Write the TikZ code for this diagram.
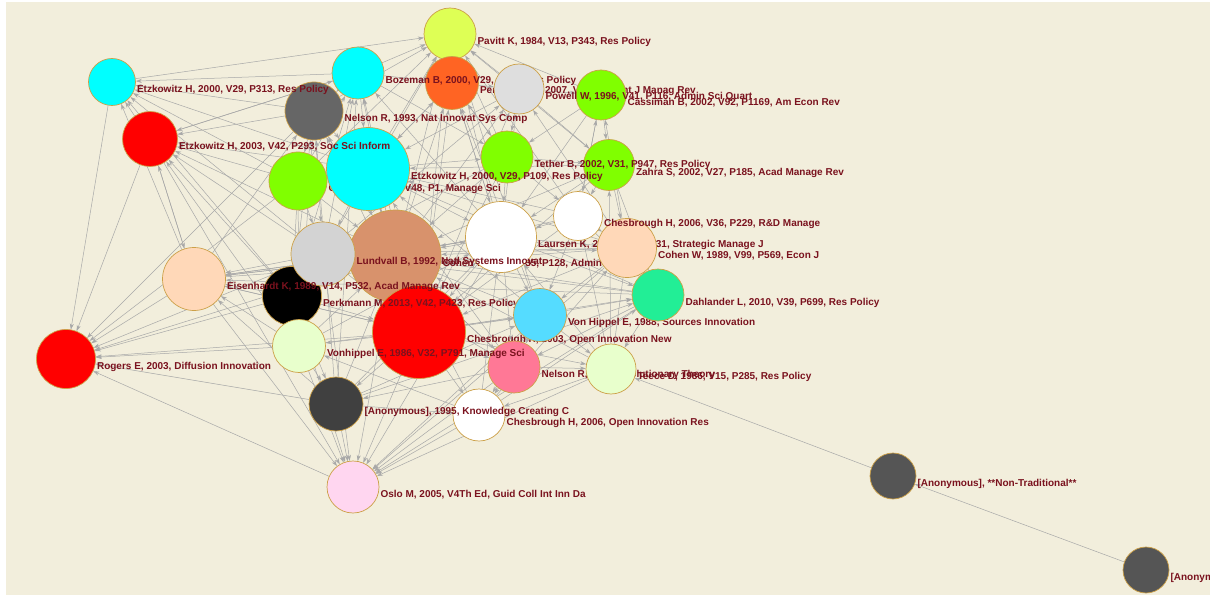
\documentclass[tikz,border=0pt]{standalone}
\usepackage{fontspec}
\setmainfont{Liberation Sans}
\usetikzlibrary{arrows.meta, backgrounds}

\definecolor{bgbeige}{RGB}{242,238,220}
\definecolor{linkgray}{RGB}{168,168,168}
\definecolor{rimgold}{RGB}{204,160,72}
\definecolor{lblred}{RGB}{122,18,30}
\definecolor{yelgreen}{RGB}{222,255,85}
\definecolor{cyanfill}{RGB}{0,255,255}
\definecolor{orangefill}{RGB}{255,100,35}
\definecolor{palegray}{RGB}{222,222,222}
\definecolor{limefill}{RGB}{128,255,0}
\definecolor{midgray}{RGB}{102,102,102}
\definecolor{redfill}{RGB}{255,0,0}
\definecolor{peachfill}{RGB}{255,216,184}
\definecolor{silvergray}{RGB}{211,211,211}
\definecolor{clayfill}{RGB}{216,146,108}
\definecolor{skyfill}{RGB}{85,220,255}
\definecolor{mintfill}{RGB}{34,238,150}
\definecolor{palelime}{RGB}{232,255,204}
\definecolor{rosefill}{RGB}{255,120,150}
\definecolor{darkfill}{RGB}{64,64,64}
\definecolor{pinkpale}{RGB}{255,214,240}
\definecolor{slatefill}{RGB}{85,85,85}

\begin{document}
\begin{tikzpicture}[x=1pt, y=-1pt,
    paper/.style={circle, draw=rimgold, line width=0.7pt, inner sep=0pt},
    lbl/.style={anchor=base west, inner sep=0pt, text=lblred,
        font=\bfseries\fontsize{10}{12}\selectfont},
    link/.style={draw=linkgray, line width=0.5pt, -{Stealth[length=6pt, width=4pt]}}]

    \useasboundingbox (0,0) rectangle (1210,596);

    % --- Top row ---
    \node[paper, fill=yelgreen, minimum size=52] (pavitt) at (450,34) {};
    \node[lbl] (pavitt-t) at ([shift={(1,10.5)}]pavitt.east) {Pavitt K, 1984, V13, P343, Res Policy};
    \node[paper, fill=cyanfill, minimum size=52] (bozeman) at (358,73) {};
    \node[paper, fill=orangefill, minimum size=53] (perkA) at (452,83) {};
    \node[lbl] (bozeman-t) at ([shift={(1,10.5)}]bozeman.east) {Bozeman B, 2000, V29, P627, Res Policy};
    \node[lbl] (perkA-t) at ([shift={(1,10.5)}]perkA.east) {Perkmann M, 2007, V9, P259, Int J Manag Rev};
    \node[paper, fill=palegray, minimum size=50] (powell) at (519,89) {};
    \node[paper, fill=limefill, minimum size=50] (cassiman) at (601,95) {};
    \node[lbl] (powell-t) at ([shift={(1,10.5)}]powell.east) {Powell W, 1996, V41, P116, Admin Sci Quart};
    \node[lbl] (cassiman-t) at ([shift={(1,10.5)}]cassiman.east) {Cassiman B, 2002, V92, P1169, Am Econ Rev};

    % --- Upper left ---
    \node[paper, fill=midgray, minimum size=58] (nelsonA) at (314,111) {};
    \node[paper, fill=cyanfill, minimum size=47] (etzA) at (112,82) {};
    \node[lbl] (etzA-t) at ([shift={(1,10.5)}]etzA.east) {Etzkowitz H, 2000, V29, P313, Res Policy};
    \node[lbl] (nelsonA-t) at ([shift={(1,10.5)}]nelsonA.east) {Nelson R, 1993, Nat Innovat Sys Comp};
    \node[paper, fill=redfill, minimum size=55] (etzB) at (150,139) {};
    \node[paper, fill=limefill, minimum size=58] (cohenA) at (298,181) {};
    \node[lbl] (cohenA-t) at ([shift={(1,10.5)}]cohenA.east) {Cohen W, 2002, V48, P1, Manage Sci};
    \node[paper, fill=cyanfill, minimum size=83] (etzC) at (368,169) {};
    \node[lbl] (etzB-t) at ([shift={(1,10.5)}]etzB.east) {Etzkowitz H, 2003, V42, P293, Soc Sci Inform};
    \node[paper, fill=limefill, minimum size=52] (tether) at (507,157) {};
    \node[paper, fill=limefill, minimum size=51] (zahra) at (609,165) {};
    \node[lbl] (etzC-t) at ([shift={(1,10.5)}]etzC.east) {Etzkowitz H, 2000, V29, P109, Res Policy};
    \node[lbl] (tether-t) at ([shift={(1,10.5)}]tether.east) {Tether B, 2002, V31, P947, Res Policy};
    \node[lbl] (zahra-t) at ([shift={(1,10.5)}]zahra.east) {Zahra S, 2002, V27, P185, Acad Manage Rev};

    % --- Middle band ---
    \node[paper, fill=clayfill, minimum size=92] (cohenC) at (395,256) {};
    \node[paper, fill=black, minimum size=59] (perkB) at (292,296) {};
    \node[paper, fill=silvergray, minimum size=64] (lundvall) at (323,254) {};
    \node[lbl] (cohenC-t) at ([shift={(1,10.5)}]cohenC.east) {Cohen W, 1990, V35, P128, Admin Sci Quart};
    \node[paper, fill=white, minimum size=71] (laursen) at (501,237) {};
    \node[lbl] (laursen-t) at ([shift={(1,10.5)}]laursen.east) {Laursen K, 2006, V27, P131, Strategic Manage J};
    \node[lbl] (lundvall-t) at ([shift={(1,10.5)}]lundvall.east) {Lundvall B, 1992, Natl Systems Innovat};
    \node[paper, fill=white, minimum size=49] (chesA) at (578,216) {};
    \node[paper, fill=peachfill, minimum size=59] (cohenB) at (627,248) {};
    \node[lbl] (chesA-t) at ([shift={(1,10.5)}]chesA.east) {Chesbrough H, 2006, V36, P229, R\&D Manage};
    \node[lbl] (cohenB-t) at ([shift={(1,10.5)}]cohenB.east) {Cohen W, 1989, V99, P569, Econ J};

    % --- Lower band ---
    \node[paper, fill=peachfill, minimum size=63] (eisen) at (194,279) {};
    \node[paper, fill=redfill, minimum size=93] (chesB) at (419,332) {};
    \node[lbl] (eisen-t) at ([shift={(1,10.5)}]eisen.east) {Eisenhardt K, 1989, V14, P532, Acad Manage Rev};
    \node[lbl] (perkB-t) at ([shift={(1,10.5)}]perkB.east) {Perkmann M, 2013, V42, P423, Res Policy};
    \node[lbl] (chesB-t) at ([shift={(1,10.5)}]chesB.east) {Chesbrough H, 2003, Open Innovation New};
    \node[paper, fill=skyfill, minimum size=53] (vonhA) at (540,315) {};
    \node[lbl] (vonhA-t) at ([shift={(1,10.5)}]vonhA.east) {Von Hippel E, 1988, Sources Innovation};
    \node[paper, fill=mintfill, minimum size=52] (dahl) at (658,295) {};
    \node[lbl] (dahl-t) at ([shift={(1,10.5)}]dahl.east) {Dahlander L, 2010, V39, P699, Res Policy};
    \node[paper, fill=rosefill, minimum size=52] (nelsonB) at (514,367) {};
    \node[paper, fill=palelime, minimum size=53] (vonhB) at (299,346) {};
    \node[lbl] (vonhB-t) at ([shift={(1,10.5)}]vonhB.east) {Vonhippel E, 1986, V32, P791, Manage Sci};
    \node[lbl] (nelsonB-t) at ([shift={(1,10.5)}]nelsonB.east) {Nelson R, 1982, Evolutionary Theory};
    \node[paper, fill=palelime, minimum size=50] (teece) at (611,369) {};
    \node[lbl] (teece-t) at ([shift={(1,10.5)}]teece.east) {Teece D, 1986, V15, P285, Res Policy};

    % --- Bottom and outliers ---
    \node[paper, fill=redfill, minimum size=59] (rogers) at (66,359) {};
    \node[lbl] (rogers-t) at ([shift={(1,10.5)}]rogers.east) {Rogers E, 2003, Diffusion Innovation};
    \node[paper, fill=darkfill, minimum size=54] (anonA) at (336,404) {};
    \node[paper, fill=white, minimum size=52] (chesC) at (479,415) {};
    \node[lbl] (anonA-t) at ([shift={(1,10.5)}]anonA.east) {[Anonymous], 1995, Knowledge Creating C};
    \node[lbl] (chesC-t) at ([shift={(1,10.5)}]chesC.east) {Chesbrough H, 2006, Open Innovation Res};
    \node[paper, fill=pinkpale, minimum size=52] (oslo) at (353,487) {};
    \node[lbl] (oslo-t) at ([shift={(1,10.5)}]oslo.east) {Oslo M, 2005, V4Th Ed, Guid Coll Int Inn Da};
    \node[paper, fill=slatefill, minimum size=46] (anonB) at (893,476) {};
    \node[lbl] (anonB-t) at ([shift={(1,10.5)}]anonB.east) {[Anonymous], **Non-Traditional**};
    \node[paper, fill=slatefill, minimum size=46] (anonC) at (1146,570) {};
    \node[lbl] (anonC-t) at ([shift={(1,10.5)}]anonC.east) {[Anonymous]};

    \begin{scope}[on background layer]
    \fill[bgbeige] (6,2) rectangle (1210,595);
    % citation links
    \foreach \src/\dst in {
        etzA/rogers, etzB/rogers, eisen/rogers, vonhB/rogers, anonA/rogers, oslo/rogers,
        perkB/rogers, lundvall/rogers, chesB/rogers, cohenA/rogers, nelsonA/rogers, cohenC/rogers,
        anonA/oslo, vonhB/oslo, perkB/oslo, chesB/oslo, chesC/oslo, nelsonB/oslo, teece/oslo,
        eisen/oslo, lundvall/oslo, cohenC/oslo, vonhA/oslo, dahl/oslo, etzB/oslo,
        cohenB/oslo, laursen/oslo,
        etzB/etzA, nelsonA/etzA, bozeman/etzA, etzC/etzA, cohenA/etzA, lundvall/etzA,
        eisen/etzA, perkB/etzA,
        etzA/pavitt, bozeman/pavitt, nelsonA/pavitt, perkA/pavitt, powell/pavitt,
        cassiman/pavitt, etzC/pavitt, tether/pavitt, laursen/pavitt, cohenA/pavitt,
        zahra/pavitt, chesB/pavitt, lundvall/pavitt, cohenC/pavitt, vonhA/pavitt, chesA/pavitt,
        etzB/bozeman, cohenA/bozeman, lundvall/bozeman, cohenC/bozeman, chesB/bozeman,
        perkB/bozeman, laursen/bozeman, anonA/bozeman,
        etzC/perkA, tether/perkA, chesB/perkA, cohenC/perkA, laursen/perkA, vonhA/perkA,
        cohenC/powell, chesB/powell, laursen/powell, lundvall/powell, dahl/powell,
        cohenB/cassiman, chesA/cassiman,
        chesB/nelsonA, cohenC/nelsonA, perkB/nelsonA, eisen/nelsonA, vonhB/nelsonA, anonA/nelsonA,
        nelsonA/etzB, etzC/etzB, cohenA/etzB, lundvall/etzB, eisen/etzB, perkB/etzB,
        vonhB/etzB, bozeman/etzB, cohenC/etzB,
        etzB/eisen, lundvall/eisen, perkB/eisen, vonhB/eisen, chesB/eisen, anonA/eisen,
        cohenC/eisen, laursen/eisen, dahl/eisen,
        bozeman/nelsonA, bozeman/perkA, bozeman/etzC, bozeman/tether, perkA/powell,
        perkA/etzC, perkA/tether, perkA/laursen, powell/cassiman, powell/etzC,
        powell/tether, powell/zahra, cassiman/zahra, cassiman/tether, cassiman/laursen,
        cassiman/chesA, nelsonA/etzC, nelsonA/cohenA, nelsonA/lundvall, nelsonA/cohenC,
        etzC/cohenA, etzC/tether, etzC/lundvall, etzC/cohenC, etzC/laursen, etzC/chesB,
        cohenA/lundvall, cohenA/cohenC, cohenA/perkB, cohenA/vonhB, tether/zahra,
        tether/laursen, tether/chesA, tether/cohenC, zahra/chesA, zahra/cohenB,
        zahra/laursen, zahra/dahl, chesA/laursen, chesA/cohenB, chesA/dahl, chesA/chesB,
        laursen/cohenB, laursen/cohenC, laursen/chesB, laursen/vonhA, laursen/dahl,
        laursen/nelsonB, cohenB/dahl, cohenB/vonhA, cohenB/chesB, cohenB/teece,
        lundvall/cohenC, lundvall/perkB, lundvall/chesB, lundvall/vonhB, cohenC/chesB,
        cohenC/perkB, cohenC/vonhA, cohenC/nelsonB, perkB/chesB, perkB/vonhB, perkB/anonA,
        chesB/vonhA, chesB/vonhB, chesB/nelsonB, chesB/anonA, chesB/chesC, chesB/teece,
        chesB/dahl, vonhA/dahl, vonhA/nelsonB, vonhA/teece, vonhA/chesC, dahl/teece,
        dahl/nelsonB, vonhB/anonA, nelsonB/teece, nelsonB/chesC, nelsonB/anonA,
        teece/chesC, anonA/chesC, chesC/vonhB,
        chesB/etzC, vonhA/etzC, eisen/cohenC, eisen/laursen, eisen/chesB, eisen/cohenB,
        vonhB/cohenC, vonhB/laursen, vonhB/vonhA, anonA/laursen, anonA/cohenC, anonA/vonhA,
        anonA/dahl, chesC/laursen, chesC/cohenC, chesC/dahl, chesC/cohenB,
        teece/laursen, teece/cohenC, teece/chesA, teece/zahra, nelsonB/cohenC,
        nelsonB/lundvall, nelsonB/etzC, dahl/etzC, dahl/cohenC, dahl/lundvall,
        cohenB/cohenC, cohenB/lundvall, cohenB/etzC, zahra/cohenC, zahra/etzC, zahra/chesB,
        tether/chesB, tether/lundvall, chesA/cohenC, chesA/etzC, chesA/vonhA,
        anonB/teece, anonC/anonB}
        \draw[link] (\src) -- (\dst);
    \end{scope}

\end{tikzpicture}
\end{document}
